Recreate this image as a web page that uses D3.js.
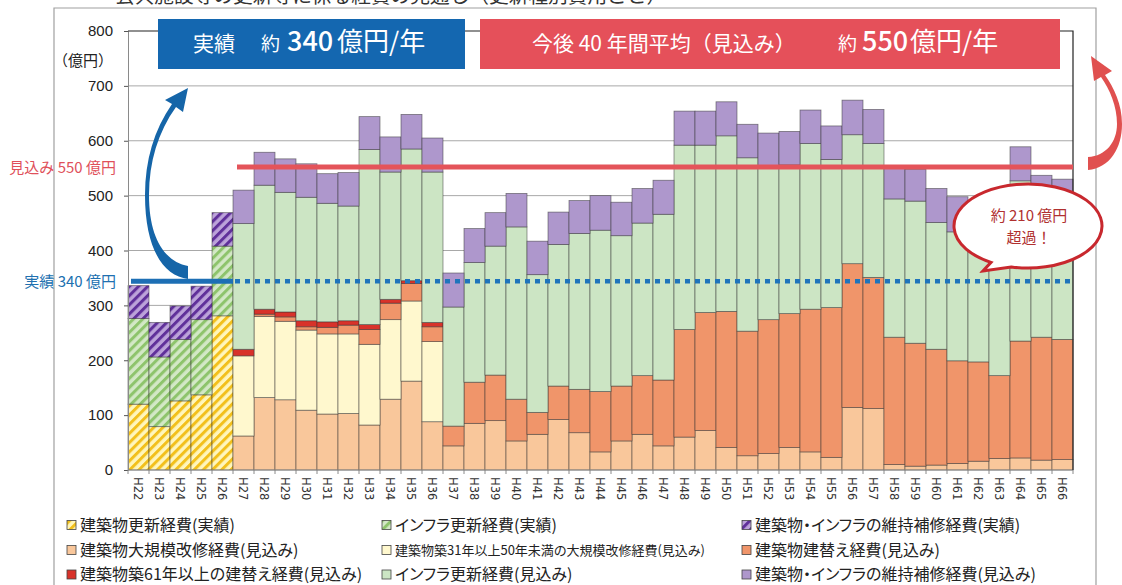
<!DOCTYPE html>
<html><head><meta charset="utf-8">
<script src="https://cdn.jsdelivr.net/npm/d3@7"></script>
<style>
body{margin:0;background:#fff}
svg{display:block}
.jp{font-family:"Noto Sans CJK JP","Noto Sans",sans-serif}
.palt{font-feature-settings:"palt"}
</style>
</head><body>
<svg id="c" width="1122" height="585"></svg>
<script>
// ---------- data ----------
const years = ["H22","H23","H24","H25","H26","H27","H28","H29","H30","H31","H32","H33","H34","H35","H36",
  "H37","H38","H39","H40","H41","H42","H43","H44","H45","H46","H47","H48","H49","H50","H51",
  "H52","H53","H54","H55","H56","H57","H58","H59","H60","H61","H62","H63","H64","H65","H66"];
const yTicks = [0,100,200,300,400,500,600,700,800];

// 実績 (actual)
const bldActual   = [120,79,126,137,281, 0,0,0,0,0,0,0,0,0,0, 0,0,0,0,0,0,0,0,0,0, 0,0,0,0,0,0,0,0,0,0, 0,0,0,0,0,0,0,0,0,0];
const infraActual = [156,127,112,137,127, 0,0,0,0,0,0,0,0,0,0, 0,0,0,0,0,0,0,0,0,0, 0,0,0,0,0,0,0,0,0,0, 0,0,0,0,0,0,0,0,0,0];
const maintActual = [60,63,61,61,61, 0,0,0,0,0,0,0,0,0,0, 0,0,0,0,0,0,0,0,0,0, 0,0,0,0,0,0,0,0,0,0, 0,0,0,0,0,0,0,0,0,0];
// 見込み (forecast)
const bldMajor    = [0,0,0,0,0, 62,132,128,109,102,103,82,129,162,88,
  44,85,90,53,65,92,68,33,53,65, 44,60,72,41,26,30,41,33,23,114, 112,10,7,9,12,16,21,22,18,19];
const bldMajor31  = [0,0,0,0,0, 146,148,143,146,146,145,147,145,146,146,
  0,0,0,0,0,0,0,0,0,0, 0,0,0,0,0,0,0,0,0,0, 0,0,0,0,0,0,0,0,0,0];
const bldRebuild  = [0,0,0,0,0, 0,4,8,6,12,16,27,30,32,27,
  36,75,83,76,40,61,79,110,100,107, 120,196,215,248,227,244,244,260,273,262, 239,232,224,211,187,181,151,213,224,219];
const bldRebuild61= [0,0,0,0,0, 12,9,9,11,10,8,9,7,5,8,
  0,0,0,0,0,0,0,0,0,0, 0,0,0,0,0,0,0,0,0,0, 0,0,0,0,0,0,0,0,0,0];
const infraFcst   = [0,0,0,0,0, 229,226,218,225,216,209,319,232,240,274,
  217,218,235,314,251,258,284,294,274,278, 302,336,305,320,316,279,271,302,270,235, 244,252,259,231,235,227,238,292,234,231];
const maintFcst   = [0,0,0,0,0, 61,60,61,61,54,61,60,64,63,62,
  62,62,61,61,61,59,60,63,61,63, 62,62,62,62,61,61,61,61,61,63, 62,56,58,62,64,61,60,62,61,61];

const actualAvg = 344;    // 実績 約340億円 line as drawn
const forecastAvg = 552;  // 見込み 約550億円 line as drawn

const seriesKeys = ["bldActual","infraActual","maintActual","bldMajor","bldMajor31","bldRebuild","bldRebuild61","infraFcst","maintFcst"];
const seriesData = {bldActual,infraActual,maintActual,bldMajor,bldMajor31,bldRebuild,bldRebuild61,infraFcst,maintFcst};
const legendLabels = [
  ["bldActual","建築物更新経費(実績)"],["infraActual","インフラ更新経費(実績)"],["maintActual","建築物・インフラの維持補修経費(実績)"],
  ["bldMajor","建築物大規模改修経費(見込み)"],["bldMajor31","建築物築31年以上50年未満の大規模改修経費(見込み)"],["bldRebuild","建築物建替え経費(見込み)"],
  ["bldRebuild61","建築物築61年以上の建替え経費(見込み)"],["infraFcst","インフラ更新経費(見込み)"],["maintFcst","建築物・インフラの維持補修経費(見込み)"]
];

// ---------- setup ----------
const svg = d3.select("#c");
svg.append("rect").attr("width",1122).attr("height",585).attr("fill","#fff");
const defs = svg.append("defs");
function hatch(id,bg,fg){
  const p = defs.append("pattern").attr("id",id).attr("patternUnits","userSpaceOnUse")
    .attr("width",6.5).attr("height",6.5).attr("patternTransform","rotate(45)");
  p.append("rect").attr("width",6.5).attr("height",6.5).attr("fill",bg);
  p.append("rect").attr("width",3).attr("height",6.5).attr("fill",fg);
}
hatch("hY","#FFF6BC","#F2C01C");
hatch("hG","#D3E8C6","#8EC46C");
hatch("hP","#BCA3DA","#60309A");

const fills = {
  bldActual:"url(#hY)", infraActual:"url(#hG)", maintActual:"url(#hP)",
  bldMajor:"#F9C79B", bldMajor31:"#FFF8CE", bldRebuild:"#F0956A", bldRebuild61:"#D8322A",
  infraFcst:"#CCE5C4", maintFcst:"#AE97CC"
};

const x = d3.scaleBand().domain(years).range([128,1073]).padding(0);
const y = d3.scaleLinear().domain([0,800]).range([470,31]);

// frame
svg.append("path").attr("d","M54,585 V8 H1096 V585").attr("fill","none").attr("stroke","#a0a0a0").attr("stroke-width",1.2);

// title (partially cut off at top, as in the source image)
svg.append("text").attr("class","jp").attr("x",115).attr("y",3).attr("font-size",19.7)
  .attr("fill","#333").text("公共施設等の更新等に係る経費の見通し（更新種別費用ごと）");

// gridlines
svg.append("g").selectAll("line").data(yTicks.filter(v=>v>0 && v<800)).join("line")
  .attr("x1",128).attr("x2",1073).attr("y1",d=>y(d)).attr("y2",d=>y(d))
  .attr("stroke","#a8a8a8").attr("stroke-width",1);

// bars
const rows = years.map((yr,i)=>{const o={year:yr}; seriesKeys.forEach(k=>o[k]=seriesData[k][i]); return o;});
const stacked = d3.stack().keys(seriesKeys)(rows);
svg.append("g").selectAll("g").data(stacked).join("g")
  .attr("fill",s=>fills[s.key])
  .selectAll("rect").data(s=>s.filter(d=>d[1]-d[0]>0)).join("rect")
  .attr("x",d=>x(d.data.year)).attr("width",x.bandwidth())
  .attr("y",d=>y(d[1])).attr("height",d=>y(d[0])-y(d[1]))
  .attr("stroke","#333").attr("stroke-opacity",0.6).attr("stroke-width",0.8);

// y axis
const yAxis = svg.append("g").attr("transform","translate(128,0)")
  .call(d3.axisLeft(y).tickValues(yTicks).tickSize(4).tickPadding(11));
yAxis.select(".domain").attr("stroke","#8a8a8a");
yAxis.selectAll(".tick line").attr("stroke","#555");
yAxis.selectAll("text").attr("font-family","Liberation Sans, Arial, sans-serif").attr("font-size",15).attr("fill","#222");
svg.append("text").attr("class","jp").attr("x",113).attr("y",66).attr("text-anchor","end")
  .attr("font-size",15).attr("fill","#222").text("（億円）");

// x axis
const xg = svg.append("g");
xg.append("line").attr("x1",128).attr("x2",1073).attr("y1",470).attr("y2",470).attr("stroke","#8a8a8a");
const bounds = years.map(d=>x(d)).concat([x.range()[1]]);
xg.selectAll("line.t").data(bounds).join("line").attr("class","t")
  .attr("x1",d=>d).attr("x2",d=>d).attr("y1",470).attr("y2",474).attr("stroke","#8a8a8a");
xg.selectAll("text").data(years).join("text")
  .attr("transform",d=>`translate(${x(d)+x.bandwidth()/2},477) rotate(90)`)
  .attr("dy","0.35em").attr("font-family","DejaVu Sans, sans-serif").attr("font-size",11.5)
  .attr("fill","#333").text(d=>d);

// plot top/right border
svg.append("path").attr("d",`M128,${y(800)} H1073 V470`).attr("fill","none").attr("stroke","#222").attr("stroke-width",1.2);

// reference lines
svg.append("line").attr("x1",237).attr("x2",1073).attr("y1",y(forecastAvg)).attr("y2",y(forecastAvg))
  .attr("stroke","#E4545A").attr("stroke-width",5);
svg.append("line").attr("x1",131).attr("x2",233).attr("y1",y(actualAvg)).attr("y2",y(actualAvg))
  .attr("stroke","#1D6FB5").attr("stroke-width",5);
svg.append("line").attr("x1",235).attr("x2",1073).attr("y1",y(actualAvg)).attr("y2",y(actualAvg))
  .attr("stroke","#1F74BB").attr("stroke-width",4.5).attr("stroke-dasharray","5,5");
svg.append("text").attr("class","jp").attr("x",116).attr("y",y(forecastAvg)+5.5).attr("text-anchor","end")
  .attr("font-size",15).attr("fill","#E0505A").text("見込み 550 億円");
svg.append("text").attr("class","jp").attr("x",116).attr("y",y(actualAvg)+5.5).attr("text-anchor","end")
  .attr("font-size",15).attr("fill","#2070B0").text("実績 340 億円");

// header boxes
svg.append("rect").attr("x",158).attr("y",19).attr("width",307).attr("height",50).attr("fill","#1467B0");
svg.append("rect").attr("x",480).attr("y",19).attr("width",580).attr("height",50).attr("fill","#E5505A");
function wt(xp,fs,t,w){svg.append("text").attr("class","jp").attr("x",xp).attr("y",51).attr("font-size",fs)
  .attr("font-weight",w||400).attr("fill","#fff").text(t);}
wt(193,21,"実績"); wt(261,19,"約"); wt(287,27,"340",500); wt(337,26,"億円/年");
wt(532,21,"今後 40 年間平均（見込み）"); wt(838,19,"約"); wt(862,27,"550",500); wt(910,26,"億円/年");

// arrows
svg.append("path").attr("fill","#1565A8")
  .attr("d","M188,279 C164,276 145,250 145,195 C145,160 154,130 172,104 L165,100 L188,88 L183,112 L176,107 C158,132 149,162 149,195 C149,240 166,262 188,266 Z");
svg.append("path").attr("fill","#E0504F")
  .attr("d","M1088,170 C1110,168 1122,148 1122,124 C1122,104 1114,88 1105,75 L1112,71 L1091,56 L1094,81 L1101,77 C1110,90 1117,106 1117,124 C1117,142 1106,156 1088,157 Z");

// speech bubble
const cx=1028, cy=226, rx=74, ry=42;
const P = a=>[cx+rx*Math.cos(a*Math.PI/180), cy+ry*Math.sin(a*Math.PI/180)];
const a1=P(120), a2=P(103);
svg.append("path").attr("fill","#fff").attr("stroke","#C8282E").attr("stroke-width",3)
  .attr("d",`M${a2} L983,271 L${a1} A${rx},${ry} 0 1 1 ${a2} Z`);
svg.append("text").attr("class","jp").attr("x",1029).attr("y",221).attr("text-anchor","middle")
  .attr("font-size",15).attr("fill","#B0302F").text("約 210 億円");
svg.append("text").attr("class","jp").attr("x",1029).attr("y",243).attr("text-anchor","middle")
  .attr("font-size",15).attr("fill","#B0302F").text("超過！");

// legend
const colX = [67,382,742], rowY = [525,550,574.5];
const lg = svg.append("g");
legendLabels.forEach(([k,label],i)=>{
  const cxl = colX[i%3], cyl = rowY[Math.floor(i/3)];
  lg.append("rect").attr("x",cxl).attr("y",cyl-4.5).attr("width",9).attr("height",9)
    .attr("fill",fills[k]).attr("stroke","#444").attr("stroke-width",0.8);
  const small = k==="bldMajor31";
  lg.append("text").attr("class","jp palt").attr("x",cxl+13).attr("y",cyl+(small?4.5:5.5))
    .attr("font-size",small?13:16).attr("fill","#222").text(label);
});
</script>
</body></html>
